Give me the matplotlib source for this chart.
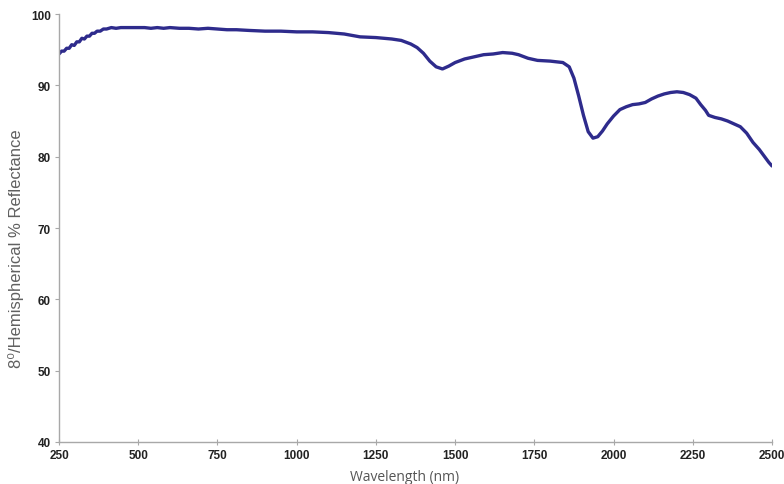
import matplotlib.pyplot as plt

# wavelength (nm) and reflectance (%)
wavelength = [250, 258, 266, 274, 282, 290, 298, 306, 314, 322, 330, 338, 346, 354,
              362, 370, 380, 390, 400, 415, 430, 445, 460, 480, 500, 520, 540,
              560, 580, 600, 630, 660, 690, 720, 750, 780, 810, 850, 900, 950,
              1000, 1050, 1100, 1150, 1200, 1250, 1300, 1330, 1360, 1380, 1400,
              1420, 1440, 1460, 1480, 1500, 1530, 1560, 1590, 1620, 1650, 1680,
              1700, 1730, 1760, 1800, 1840, 1860, 1875, 1890, 1905, 1920, 1935, 1950, 1965,
              1980, 2000, 2020, 2040, 2060, 2080, 2100, 2120, 2140, 2160, 2180, 2200, 2220,
              2240, 2260, 2275, 2290, 2300, 2320, 2340, 2360, 2380, 2400, 2420, 2440,
              2460, 2480, 2490, 2500]
reflectance = [94.4, 94.8, 94.8, 95.2, 95.2, 95.7, 95.6, 96.1, 96.1, 96.6, 96.5, 96.9, 96.9, 97.3,
               97.3, 97.6, 97.6, 97.9, 97.9, 98.1, 98.0, 98.1, 98.1, 98.1, 98.1, 98.1, 98.0,
               98.1, 98.0, 98.1, 98.0, 98.0, 97.9, 98.0, 97.9, 97.8, 97.8, 97.7, 97.6, 97.6,
               97.5, 97.5, 97.4, 97.2, 96.8, 96.7, 96.5, 96.3, 95.8, 95.3, 94.5,
               93.4, 92.6, 92.3, 92.7, 93.2, 93.7, 94.0, 94.3, 94.4, 94.6, 94.5,
               94.3, 93.8, 93.5, 93.4, 93.2, 92.6, 91.0, 88.5, 85.8, 83.5, 82.6, 82.8, 83.6,
               84.6, 85.7, 86.6, 87.0, 87.3, 87.4, 87.6, 88.1, 88.5, 88.8, 89.0, 89.1, 89.0,
               88.7, 88.2, 87.3, 86.5, 85.8, 85.5, 85.3, 85.0, 84.6, 84.2, 83.3, 82.0,
               81.0, 79.8, 79.2, 78.7]

x_ticks = [250, 500, 750, 1000, 1250, 1500, 1750, 2000, 2250, 2500]
y_ticks = [40, 50, 60, 70, 80, 90, 100]

fig = plt.figure(figsize=(7.84, 4.85), dpi=100)
ax = fig.add_axes([0.0753, 0.0866, 0.9094, 0.8824])

ax.plot(wavelength, reflectance, color='#2e2b8c', linewidth=2.4,
        solid_joinstyle='round', solid_capstyle='round')

ax.set_xlim(250, 2500)
ax.set_ylim(40, 100)
ax.set_xticks(x_ticks)
ax.set_yticks(y_ticks)

for side in ['top', 'right']:
    ax.spines[side].set_visible(False)
for side in ['left', 'bottom']:
    ax.spines[side].set_color('#a8a8a8')
    ax.spines[side].set_linewidth(1.0)

ax.tick_params(axis='x', direction='inout', length=4, color='#a8a8a8', pad=3,
               labelsize=8.5, labelcolor='#222222')
ax.tick_params(axis='y', direction='out', length=3, color='#a8a8a8', pad=3,
               labelsize=8.5, labelcolor='#222222')
for lab in ax.get_xticklabels() + ax.get_yticklabels():
    lab.set_fontfamily('Liberation Sans')
    lab.set_fontweight('bold')

ax.set_xlabel('Wavelength (nm)', fontfamily='Open Sans', fontsize=10,
              color='#555555')
ax.xaxis.set_label_coords(0.485, -0.062)
ax.set_ylabel('8\u2070/Hemispherical % Reflectance',
              family=['Liberation Sans', 'DejaVu Sans'],
              fontsize=12, color='#606060')
ax.yaxis.set_label_coords(-0.049, 0.453)

fig.savefig('out.png', dpi=100)
plt.close()
